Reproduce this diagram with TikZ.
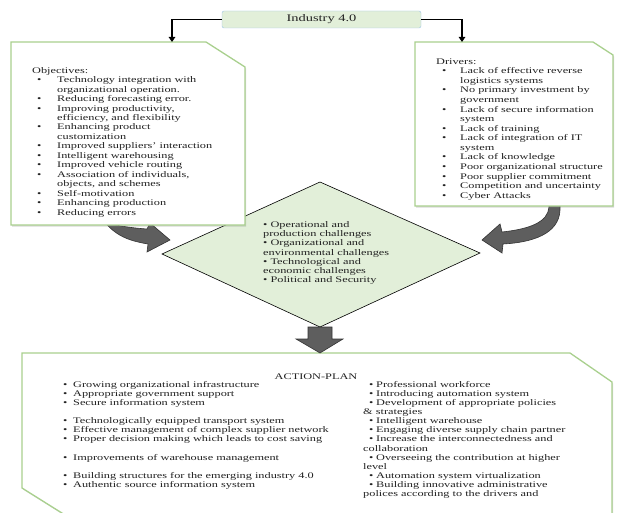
\documentclass[tikz,border=0pt]{standalone}
\usepackage{fontspec}
\setmainfont{Liberation Serif}[FakeStretch=1.43]
\usetikzlibrary{arrows.meta,shadows}
\definecolor{boxgreen}{HTML}{A9D08E}
\definecolor{palegreen}{HTML}{E2EFD9}
\definecolor{paleblue}{HTML}{9DC3E6}
\definecolor{arrowgray}{HTML}{5E5E5E}
\definecolor{txtcol}{HTML}{222222}
\newcommand{\mybul}[1]{\makebox[#1][l]{•}}
\begin{document}
\begin{tikzpicture}[x=1pt,y=-1pt,
  greenbox/.style={draw=boxgreen, line width=1.3pt, fill=white,
    drop shadow={shadow xshift=1.2pt, shadow yshift=-1.6pt, opacity=0.3}},
  blockarrow/.style={fill=arrowgray, draw=black!80, line width=0.6pt},
  conn/.style={line width=1.6pt, -{Triangle[length=5pt,width=6.5pt]}},
  txt/.style={anchor=base west, inner sep=0pt, text=txtcol,
    font=\fontsize{8.6}{9.5}\selectfont}]
\useasboundingbox (0,0) rectangle (618,513);

% diamond
\path[fill=palegreen, draw=black, line width=0.6pt]
  (320,182) coordinate (dtop) -- (480,253) coordinate (dright)
  -- (320,327) coordinate (dbot) -- (162,254) coordinate (dleft) -- cycle;

% curved arrows
\path[blockarrow] (62,200) .. controls (85,221) and (118,227) .. (147,229)
  -- (150,223) -- (170,240) coordinate (ltip) -- (147,252) -- (148,244)
  .. controls (124,240) and (106,233) .. (92,200) -- cycle;
\path[blockarrow] (549,198) -- (549,207) .. controls (548,222) and (530,229) .. (502,232)
  -- (500,224) -- (482,240) coordinate (rtip) -- (502,253) -- (503,244)
  .. controls (540,242) and (561,230) .. (560,207) -- (560,198) -- cycle;

% objectives box
\path[greenbox] (11,42) -- (206,42) -- (245,67) -- (245,225) -- (11,225) -- cycle;
\coordinate (objin) at (172,42);
% drivers box
\path[greenbox] (415,42) -- (593,42) -- (613,55) -- (613,206) -- (415,206) -- cycle;
\coordinate (drvin) at (462,42);

% action plan box
\path[greenbox] (22,353) -- (570,353) -- (612,382) -- (612,530) -- (89,530) -- (22,488) -- cycle;
\coordinate (actin) at (320,353);

% down arrow
\path[blockarrow] (308,327) -- (332,327) -- (332,339) -- (343,339) -- (actin)
  -- (296,339) -- (308,339) -- cycle;

% Industry 4.0
\node[draw=paleblue, fill=palegreen, rounded corners=2pt, minimum width=199pt,
  minimum height=17pt, inner sep=0pt, text=txtcol,
  font=\fontsize{10.1}{11}\selectfont] (ind) at (321.5,19.5) {Industry 4.0};
\draw[conn] (ind.west) -| (objin);
\draw[conn] (ind.east) -| (drvin);

% objectives text
\node[txt] (o0) at (32,73.3) {Objectives:};
\node[txt] (o1) at (37,82.8) {\mybul{20pt}Technology integration with};
\node[txt] (o2) at (57,92.2) {organizational operation.};
\node[txt] (o3) at (37,101.7) {\mybul{20pt}Reducing forecasting error.};
\node[txt] (o4) at (37,111.1) {\mybul{20pt}Improving productivity,};
\node[txt] (o5) at (57,120.6) {efficiency, and flexibility};
\node[txt] (o6) at (37,130.0) {\mybul{20pt}Enhancing product};
\node[txt] (o7) at (57,139.5) {customization};
\node[txt] (o8) at (37,148.9) {\mybul{20pt}Improved suppliers' interaction};
\node[txt] (o9) at (37,158.4) {\mybul{20pt}Intelligent warehousing};
\node[txt] (o10) at (37,167.8) {\mybul{20pt}Improved vehicle routing};
\node[txt] (o11) at (37,177.3) {\mybul{20pt}Association of individuals,};
\node[txt] (o12) at (57,186.7) {objects, and schemes};
\node[txt] (o13) at (37,196.2) {\mybul{20pt}Self-motivation};
\node[txt] (o14) at (37,205.6) {\mybul{20pt}Enhancing production};
\node[txt] (o15) at (37,215.1) {\mybul{20pt}Reducing errors};

% drivers text
\node[txt] (d0) at (436,64.3) {Drivers:};
\node[txt] (d1) at (442,73.9) {\mybul{18pt}Lack of effective reverse};
\node[txt] (d2) at (460,83.4) {logistics systems};
\node[txt] (d3) at (442,93.0) {\mybul{18pt}No primary investment by};
\node[txt] (d4) at (460,102.6) {government};
\node[txt] (d5) at (442,112.2) {\mybul{18pt}Lack of secure information};
\node[txt] (d6) at (460,121.7) {system};
\node[txt] (d7) at (442,131.3) {\mybul{18pt}Lack of training};
\node[txt] (d8) at (442,140.9) {\mybul{18pt}Lack of integration of IT};
\node[txt] (d9) at (460,150.4) {system};
\node[txt] (d10) at (442,160.0) {\mybul{18pt}Lack of knowledge};
\node[txt] (d11) at (442,169.6) {\mybul{18pt}Poor organizational structure};
\node[txt] (d12) at (442,179.1) {\mybul{18pt}Poor supplier commitment};
\node[txt] (d13) at (442,188.7) {\mybul{18pt}Competition and uncertainty};
\node[txt] (d14) at (442,198.3) {\mybul{18pt}Cyber Attacks};

% challenges text
\node[txt] (c0) at (263,227.5) {• Operational and};
\node[txt] (c1) at (263,236.7) {production challenges};
\node[txt] (c2) at (263,245.8) {• Organizational and};
\node[txt] (c3) at (263,255.0) {environmental challenges};
\node[txt] (c4) at (263,264.2) {• Technological and};
\node[txt] (c5) at (263,273.4) {economic challenges};
\node[txt] (c6) at (263,282.5) {• Political and Security};

% action plan text
\node[txt, anchor=base] (atitle) at (316,379.7) {ACTION-PLAN};
\node[txt] (al1) at (63,387.3) {\mybul{10pt}Growing organizational infrastructure};
\node[txt] (al2) at (63,396.4) {\mybul{10pt}Appropriate government support};
\node[txt] (al3) at (63,405.5) {\mybul{10pt}Secure information system};
\node[txt] (al4) at (63,423.7) {\mybul{10pt}Technologically equipped transport system};
\node[txt] (al5) at (63,432.8) {\mybul{10pt}Effective management of complex supplier network};
\node[txt] (al6) at (63,441.9) {\mybul{10pt}Proper decision making which leads to cost saving};
\node[txt] (al7) at (63,460.1) {\mybul{10pt}Improvements of warehouse management};
\node[txt] (al8) at (63,478.3) {\mybul{10pt}Building structures for the emerging industry 4.0};
\node[txt] (al9) at (63,487.4) {\mybul{10pt}Authentic source information system};

\node[txt] (ar1) at (369,387.3) {\mybul{7pt}Professional workforce};
\node[txt] (ar2) at (369,396.4) {\mybul{7pt}Introducing automation system};
\node[txt] (ar3) at (369,405.5) {\mybul{7pt}Development of appropriate policies};
\node[txt] (ar4) at (363,414.6) {\& strategies};
\node[txt] (ar5) at (369,423.7) {\mybul{7pt}Intelligent warehouse};
\node[txt] (ar6) at (369,432.8) {\mybul{7pt}Engaging diverse supply chain partner};
\node[txt] (ar7) at (369,441.9) {\mybul{7pt}Increase the interconnectedness and};
\node[txt] (ar8) at (363,451.0) {collaboration};
\node[txt] (ar9) at (369,460.1) {\mybul{7pt}Overseeing the contribution at higher};
\node[txt] (ar10) at (363,469.2) {level};
\node[txt] (ar11) at (369,478.3) {\mybul{7pt}Automation system virtualization};
\node[txt] (ar12) at (369,487.4) {\mybul{7pt}Building innovative administrative};
\node[txt] (ar13) at (363,496.5) {polices according to the drivers and};
\end{tikzpicture}
\end{document}
